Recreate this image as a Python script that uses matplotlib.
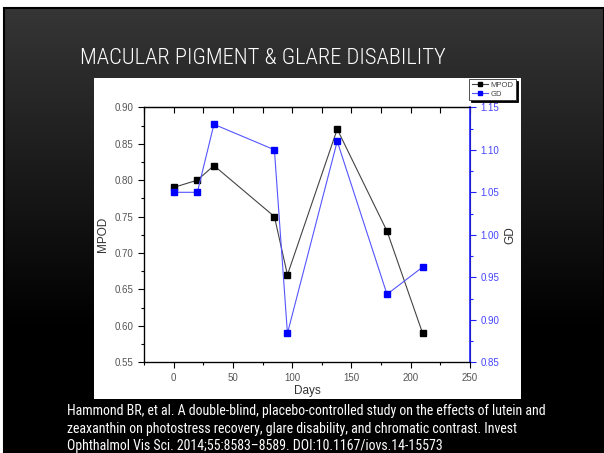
import os
import numpy as np
import matplotlib
matplotlib.use("Agg")
import matplotlib.pyplot as plt
from matplotlib.patches import Rectangle
from matplotlib.ticker import MultipleLocator, FormatStrFormatter
from matplotlib.lines import Line2D
from matplotlib import font_manager as fm

days = [0, 20, 34, 85, 96, 138, 180, 210]
mpod = [0.79, 0.80, 0.82, 0.75, 0.67, 0.87, 0.73, 0.59]
gd = [1.05, 1.05, 1.13, 1.10, 0.884, 1.11, 0.93, 0.962]

title = "MACULAR PIGMENT & GLARE DISABILITY"
citation = ["Hammond BR, et al. A double-blind, placebo-controlled study on the effects of lutein and",
            "zeaxanthin on photostress recovery, glare disability, and chromatic contrast. Invest",
            "Ophthalmol Vis Sci. 2014;55:8583\u20138589. DOI:10.1167/iovs.14-15573"]


def pick_font(patterns):
    files = [f.fname for f in fm.fontManager.ttflist]
    for p in patterns:
        for fn in files:
            if os.path.basename(fn).lower().startswith(p.lower()):
                return fm.FontProperties(fname=fn)
    return fm.FontProperties(family=["DejaVu Sans"])


arial_fp = pick_font(["LiberationSans-Regular", "Arimo-Regular", "Roboto-Regular", "DejaVuSans."])
plt.rcParams["font.family"] = [arial_fp.get_name(), "DejaVu Sans"]

title_fp = pick_font(["RobotoCondensed-Light", "NotoSans-CondensedLight", "OpenSans_Condensed-Light",
                      "OpenSansCondensed-Light", "LiberationSansNarrow-Regular", "RobotoCondensed-Regular",
                      "NotoSans-Condensed.", "DejaVuSansCondensed.", "Roboto-Light", "LiberationSans-Regular"])
cite_fp = pick_font(["LiberationSansNarrow-Regular", "RobotoCondensed-Regular", "NotoSans-Condensed.",
                     "OpenSans_Condensed-Regular", "DejaVuSansCondensed.", "LiberationSans-Regular"])

W, H = 604, 453
fig = plt.figure(figsize=(W / 100, H / 100), dpi=100, facecolor="white")

# slide background
bg = fig.add_axes([0, 0, 1, 1])
bg.set_xlim(0, W)
bg.set_ylim(H, 0)
bg.axis("off")
yy = np.linspace(0, 1, 200)
grad = np.clip(0.21 - 0.21 * yy / 0.72, 0, 1)[:, None] * np.ones((1, 10))
bg.imshow(np.dstack([grad, grad, grad]), extent=[4, W, H, 8], aspect="auto", zorder=0)
bg.add_patch(Rectangle((4, 8), W - 4, H - 8, fill=False, ec="black", lw=1.5, zorder=1))
bg.add_patch(Rectangle((94, 78), 427, 321, fc="white", ec="none", zorder=2))

renderer = fig.canvas.get_renderer()


def fit_text(x, y, s, fp, target_w, size0, **kw):
    fp = fp.copy()
    fp.set_size(size0)
    t = bg.text(x, y, s, fontproperties=fp, **kw)
    w = t.get_window_extent(renderer=renderer).width
    size = size0 * target_w / w
    fp.set_size(size)
    t.set_fontproperties(fp)
    return t, size


fit_text(263, 58, title, title_fp, 366, 17, color="white", ha="center", va="center", zorder=3)
_, csize = fit_text(67, 415, citation[0], cite_fp, 483, 10.5, color="white", ha="left",
                    va="baseline", zorder=3)
for i, yb in zip([1, 2], [433, 450]):
    fp = cite_fp.copy()
    fp.set_size(csize)
    bg.text(67, yb, citation[i], fontproperties=fp, color="white", ha="left", va="baseline", zorder=3)

# chart
left, right, top, bottom = 144, 470, 107.3, 362.3
ax = fig.add_axes([left / W, 1 - bottom / H, (right - left) / W, (bottom - top) / H])
ax.set_facecolor("white")
ax.plot(days, mpod, color="#444444", lw=0.8, marker="s", ms=4, mfc="black", mec="black", zorder=3)
ax.set_xlim(-25, 250)
ax.set_ylim(0.55, 0.90)
ax.xaxis.set_major_locator(MultipleLocator(50))
ax.xaxis.set_minor_locator(MultipleLocator(25))
ax.yaxis.set_major_locator(MultipleLocator(0.05))
ax.yaxis.set_minor_locator(MultipleLocator(0.025))
ax.yaxis.set_major_formatter(FormatStrFormatter("%.2f"))
ax.tick_params(axis="both", which="major", direction="out", length=4, width=0.8,
               labelsize=7, labelcolor="#555555", colors="black")
ax.tick_params(axis="both", which="minor", direction="out", length=2.5, width=0.8)
ax.tick_params(axis="x", labelcolor="#555555", labelsize=7, top=False, which="both")
ax.set_xlabel("Days", fontsize=8.5, color="#333333", labelpad=2)
ax.set_ylabel("MPOD", fontsize=8.5, color="#333333", labelpad=4)
for s in ["left", "bottom", "top"]:
    ax.spines[s].set_linewidth(0.9)

ax2 = ax.twinx()
ax2.plot(days, gd, color="#5555ff", lw=0.8, marker="s", ms=4, mfc="#0000ff", mec="#0000ff", zorder=3)
ax2.set_ylim(0.85, 1.15)
ax2.yaxis.set_major_locator(MultipleLocator(0.05))
ax2.yaxis.set_minor_locator(MultipleLocator(0.025))
ax2.yaxis.set_major_formatter(FormatStrFormatter("%.2f"))
ax2.tick_params(axis="y", which="major", direction="out", length=4, width=0.8,
                colors="#2222ff", labelsize=7, labelcolor="#4444ff")
ax2.tick_params(axis="y", which="minor", direction="out", length=2.5, width=0.8, colors="#2222ff")
ax2.spines["right"].set_color("#2222ff")
ax2.spines["right"].set_linewidth(1.2)
ax2.set_ylabel("GD", fontsize=8.5, color="#333333", labelpad=4)

# top ticks pointing inward
secx = ax.secondary_xaxis("top")
secx.xaxis.set_major_locator(MultipleLocator(25))
secx.tick_params(direction="in", length=4, width=0.8, labeltop=False)

# legend
handles = [Line2D([], [], color="#444444", lw=0.8, marker="s", ms=3, mfc="black", mec="black"),
           Line2D([], [], color="#5555ff", lw=0.8, marker="s", ms=3, mfc="#0000ff", mec="#0000ff")]
leg = fig.legend(handles, ["MPOD", "GD"], loc="upper right",
                 bbox_to_anchor=(516 / W, 1 - 79 / H), fontsize=5.5, frameon=True,
                 fancybox=False, shadow={"color": "black", "alpha": 1.0, "ox": 1.5, "oy": -1.5},
                 handlelength=2.2, handletextpad=0.3,
                 borderpad=0.3, labelspacing=0.2, borderaxespad=0)
leg.get_frame().set_edgecolor("#333333")
leg.get_frame().set_linewidth(0.6)
for t in leg.get_texts():
    t.set_color("#444444")

fig.savefig("out.png", dpi=100, facecolor="white")
